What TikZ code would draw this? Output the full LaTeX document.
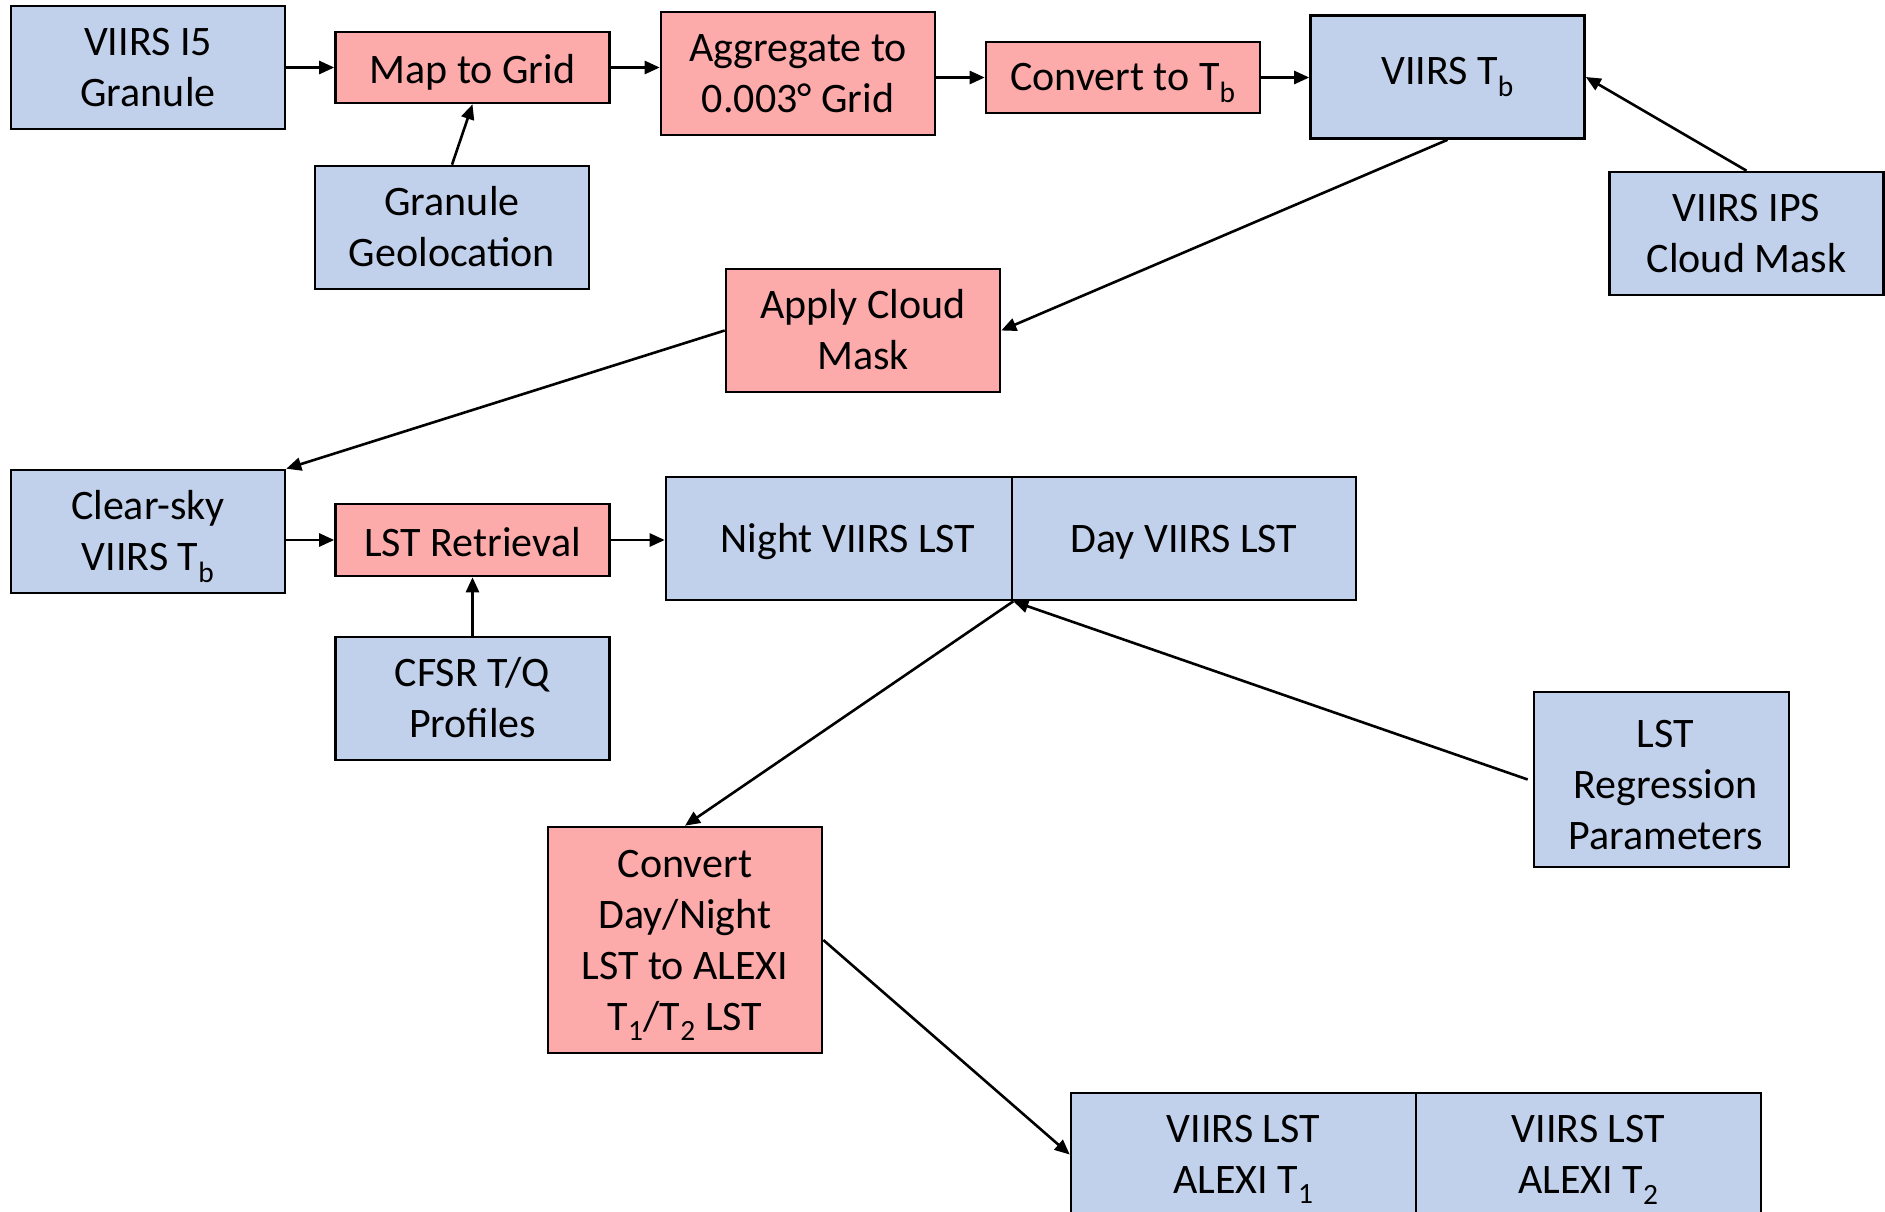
\documentclass[tikz,border=0pt]{standalone}
\usepackage{fontspec}
\setmainfont{Carlito}
\usetikzlibrary{arrows.meta,calc}
\definecolor{boxblue}{HTML}{C2D1EB}
\definecolor{boxpink}{HTML}{FDAAAA}
\newcommand{\tstrut}{\rule{0pt}{35pt}}
\newcommand{\tallstrut}{\rule{0pt}{45pt}}
\begin{document}
\begin{tikzpicture}[x=1pt,y=-1pt,
  base/.style={draw=black, line width=2.6pt, align=center, inner sep=0pt,
    font=\fontsize{42}{51}\selectfont, minimum width=274pt, text depth=8pt},
  databox/.style={base, fill=boxblue},
  procbox/.style={base, fill=boxpink},
  tall/.style={minimum height=123pt},
  short/.style={minimum height=71pt},
  arr/.style={line width=2.6pt, -{Triangle[length=15pt,width=13pt]}}
]
\useasboundingbox (0,0) rectangle (1885,1212);
\fill[white] (0,0) rectangle (1885,1212);

% top row
\node[databox,tall] (i5) at (148,67.5) {\tstrut VIIRS I5\\Granule};
\node[procbox,short,text depth=3pt] (map) at (472.5,67.5) {\tstrut Map to Grid};
\node[procbox,tall] (agg) at (798,73.5) {\tstrut Aggregate to\\0.003° Grid};
\node[procbox,short] (conv) at (1123,77.5) {\tstrut Convert to T\textsubscript{b}};
\node[databox,tall,text depth=20pt] (vtb) at (1447.5,77) {\tstrut VIIRS T\textsubscript{b}};
\node[databox,tall] (geo) at (452,227.5) {\tstrut Granule\\Geolocation};
\node[databox,tall] (ips) at (1746.5,233.5) {\tstrut VIIRS IPS\\Cloud Mask};
\node[procbox,tall] (acm) at (863,330.5) {\tstrut Apply Cloud\\Mask};

% middle row
\node[databox,tall] (csky) at (148,531.5) {\tstrut Clear-sky\\VIIRS T\textsubscript{b}};
\node[procbox,minimum height=72pt,text depth=3pt] (lstr) at (472.5,540) {\tstrut LST Retrieval};
\node[databox,tall,minimum width=346pt] (night) at (839,538.5) {\tstrut\hspace*{18pt}Night VIIRS LST};
\node[databox,tall,minimum width=344pt] (day) at (1184,538.5) {\tstrut Day VIIRS LST};
\node[databox,tall] (cfsr) at (472.5,698.5) {\tstrut CFSR T/Q\\Profiles};
\node[databox,minimum width=255pt,minimum height=175pt] (reg) at (1661.5,779.5) {\tallstrut\hspace*{8pt}LST\\\hspace*{8pt}Regression\\\hspace*{8pt}Parameters};

% bottom
\node[procbox,minimum height=226pt] (cvt) at (685,940) {\tstrut Convert\\Day/Night\\LST to ALEXI\\T\textsubscript{1}/T\textsubscript{2} LST};
\node[databox,tall,minimum width=345pt] (a1) at (1243.5,1154.5) {\tstrut VIIRS LST\\ALEXI T\textsubscript{1}};
\node[databox,tall,minimum width=345pt] (a2) at (1588.5,1154.5) {\tstrut VIIRS LST\\ALEXI T\textsubscript{2}};

% connectors
\draw[arr] (i5.east) -- (map.west);
\draw[arr] (map.east) -- (map.east -| agg.west);
\draw[arr] (agg.east |- conv.west) -- (conv.west);
\draw[arr] (conv.east) -- (conv.east -| vtb.west);
\draw[arr] (geo.north) -- (map.south);
\draw[arr] (ips.north) -- (vtb.east);
\draw[arr] (vtb.south) -- (acm.east);
\draw[arr] (acm.west) -- (csky.north east);
\draw[arr] (csky.east |- lstr.west) -- (lstr.west);
\draw[arr] (lstr.east) -- (lstr.east -| night.west);
\draw[arr] (cfsr.north) -- (lstr.south);
\draw[arr] (night.south east) -- (cvt.north);
\draw[arr] ([xshift=-5pt]reg.west) -- (night.south east);
\draw[arr] (cvt.east) -- (a1.west);
\end{tikzpicture}
\end{document}
